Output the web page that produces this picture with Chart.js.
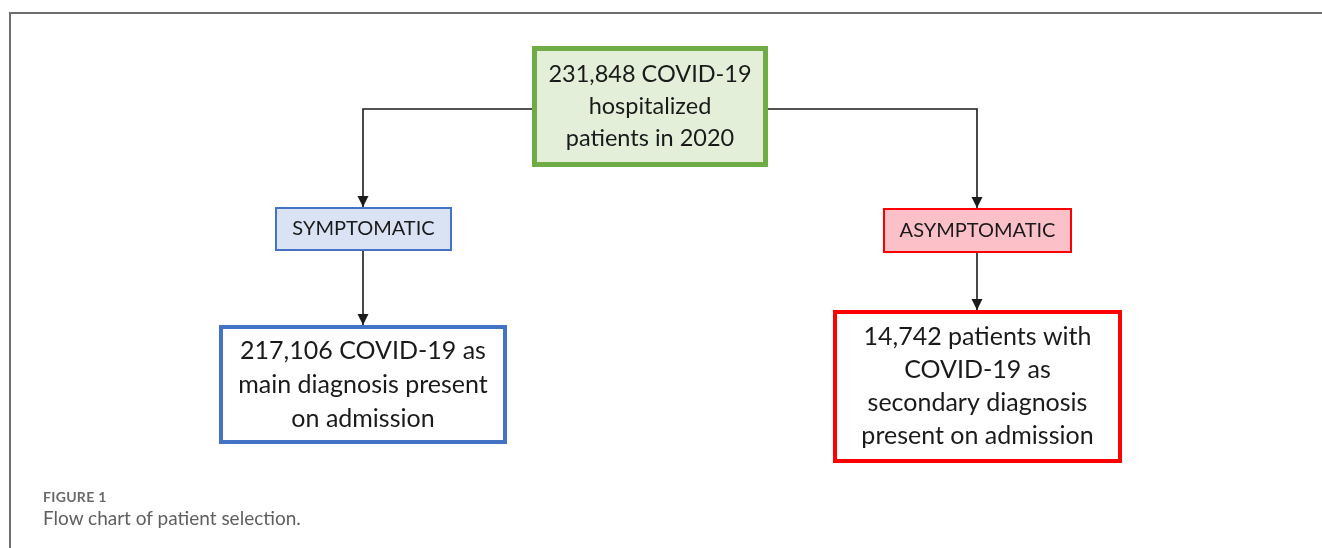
<!DOCTYPE html>
<html>
<head>
<meta charset="utf-8">
<script src="https://cdn.jsdelivr.net/npm/chart.js@4.4.1/dist/chart.umd.min.js"></script>
<style>
  html, body { margin: 0; padding: 0; background: #fff; }
  #wrap { position: relative; width: 1322px; height: 548px; overflow: hidden; }
  #frame { position: absolute; left: 9px; top: 12px; width: 1330px; height: 600px;
           border-top: 2px solid #6e6e6e; border-left: 2px solid #6e6e6e; }
  #flow { position: absolute; left: 0; top: 0; }
  .cap { position: absolute; left: 43px; font-family: Lato, "Open Sans", sans-serif; color: #5f5f5f; }
  #figno { top: 488px; font-size: 14px; font-weight: bold; letter-spacing: 0.3px; color: #6a6a6a; }
  #figtitle { top: 506px; font-size: 19px; }
</style>
</head>
<body>
<div id="wrap">
  <div id="frame"></div>
  <canvas id="flow" width="1322" height="548"></canvas>
  <div class="cap" id="figno">FIGURE 1</div>
  <div class="cap" id="figtitle">Flow chart of patient selection.</div>
</div>
<script>
// counts
const studyYear = 2020;
const totalHospitalized = 231848;
const mainDiagnosis = 217106;
const secondaryDiagnosis = 14742;
const groupNames = ['SYMPTOMATIC', 'ASYMPTOMATIC'];

const fmt = n => n.toLocaleString('en-US');

// text of every node
const nodeText = {
  total: [fmt(totalHospitalized) + ' COVID-19', 'hospitalized', 'patients in ' + studyYear],
  sym: [groupNames[0]],
  asym: [groupNames[1]],
  main: [fmt(mainDiagnosis) + ' COVID-19 as', 'main diagnosis present', 'on admission'],
  second: [fmt(secondaryDiagnosis) + ' patients with', 'COVID-19 as', 'secondary diagnosis', 'present on admission']
};

// box placement in axis units (x 0..1322, y 0..548 top-down) and looks
const boxes = {
  total:  { x0: 532, x1: 768,  y0: 46,  y1: 167, fill: '#e3efd9', stroke: '#6fac46', lw: 5, size: 23.5, gap: 32 },
  sym:    { x0: 275, x1: 452,  y0: 207, y1: 251, fill: '#dae3f3', stroke: '#4472c4', lw: 2, size: 20, gap: 0 },
  asym:   { x0: 883, x1: 1072, y0: 208, y1: 253, fill: '#fcc0c9', stroke: '#ff0000', lw: 2, size: 20, gap: 0 },
  main:   { x0: 219, x1: 507,  y0: 325, y1: 444, fill: '#ffffff', stroke: '#4472c4', lw: 4, size: 25, gap: 34 },
  second: { x0: 833, x1: 1122, y0: 310, y1: 463, fill: '#ffffff', stroke: '#ff0000', lw: 4, size: 25, gap: 33 }
};

// elbow connectors: list of points, arrow at the end
const links = [
  [[532, 109], [363, 109], [363, 207]],
  [[768, 109], [977, 109], [977, 208]],
  [[363, 251], [363, 325]],
  [[977, 253], [977, 310]]
];

const flowPlugin = {
  id: 'flow',
  afterDraw(chart) {
    const ctx = chart.ctx;
    const sx = v => chart.scales.x.getPixelForValue(v);
    const sy = v => chart.scales.y.getPixelForValue(v);
    ctx.save();

    // connectors
    ctx.strokeStyle = '#1b1b1b';
    ctx.fillStyle = '#1b1b1b';
    ctx.lineWidth = 1.6;
    links.forEach(pts => {
      ctx.beginPath();
      pts.forEach((p, i) => {
        const px = sx(p[0]), py = sy(p[1]);
        if (i === 0) ctx.moveTo(px, py); else ctx.lineTo(px, py);
      });
      ctx.stroke();
      const end = pts[pts.length - 1];
      const ex = sx(end[0]), ey = sy(end[1]);
      ctx.beginPath();
      ctx.moveTo(ex, ey);
      ctx.lineTo(ex - 5.5, ey - 11);
      ctx.lineTo(ex + 5.5, ey - 11);
      ctx.closePath();
      ctx.fill();
    });

    // boxes and their text
    Object.keys(boxes).forEach(k => {
      const b = boxes[k];
      const x0 = sx(b.x0), x1 = sx(b.x1), y0 = sy(b.y0), y1 = sy(b.y1);
      ctx.fillStyle = b.fill;
      ctx.fillRect(x0, y0, x1 - x0, y1 - y0);
      ctx.strokeStyle = b.stroke;
      ctx.lineWidth = b.lw;
      ctx.strokeRect(x0 + b.lw / 2, y0 + b.lw / 2, x1 - x0 - b.lw, y1 - y0 - b.lw);

      const lines = nodeText[k];
      ctx.fillStyle = '#1a1a1a';
      ctx.font = b.size + 'px Lato, "Open Sans", sans-serif';
      ctx.textAlign = 'center';
      ctx.textBaseline = 'middle';
      const cx = (x0 + x1) / 2, cy = (y0 + y1) / 2;
      lines.forEach((t, i) => {
        ctx.fillText(t, cx, cy + (i - (lines.length - 1) / 2) * b.gap);
      });
    });
    ctx.restore();
  }
};

new Chart(document.getElementById('flow'), {
  type: 'scatter',
  data: { datasets: [] },
  options: {
    responsive: false,
    animation: false,
    layout: { padding: 0 },
    plugins: { legend: { display: false }, tooltip: { enabled: false } },
    scales: {
      x: { type: 'linear', min: 0, max: 1322, display: false },
      y: { type: 'linear', min: 0, max: 548, reverse: true, display: false }
    }
  },
  plugins: [flowPlugin]
});
</script>
</body>
</html>
